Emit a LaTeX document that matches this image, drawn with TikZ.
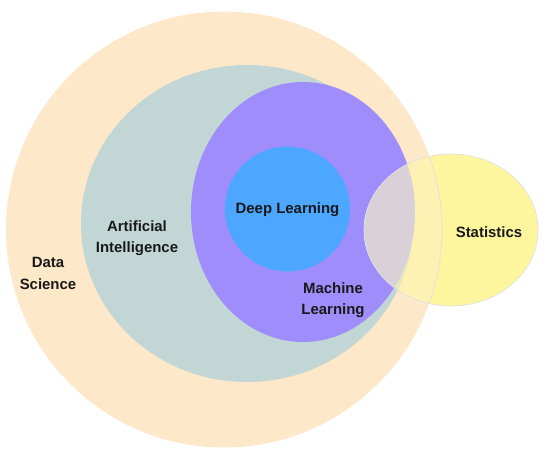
\documentclass[tikz,border=0pt]{standalone}
\usepackage{fontspec}
\setmainfont{Liberation Sans}
\usepackage{xcolor}

\definecolor{dsfill}{HTML}{FDE8C9}
\definecolor{aifill}{HTML}{C2D6D6}
\definecolor{mlfill}{HTML}{9E8DFA}
\definecolor{dlfill}{HTML}{4DA6FF}
\definecolor{stfill}{HTML}{FEF59F}
\definecolor{stds}{HTML}{FDF1B3}
\definecolor{stai}{HTML}{E3E6C2}
\definecolor{stml}{HTML}{D9D0D8}

\begin{document}
\begin{tikzpicture}[x=0.02cm,y=0.02cm,
  lbl/.style={font=\bfseries\fontsize{8.5}{12.2}\selectfont, align=center, text=black!90}]

\useasboundingbox (0,0) rectangle (543,-459);

% Data Science
\fill[dsfill] (224,-229.5) circle (218);

% Artificial Intelligence
\fill[aifill] (247,-223.5) ellipse (166 and 158.5);

% Machine Learning
\fill[mlfill] (303,-212) ellipse (112 and 130);

% Deep Learning
\fill[dlfill] (287.5,-209) circle (62.5);

% Statistics, with the overlaps
\fill[stfill] (451,-230) ellipse (87 and 76);
\begin{scope}
  \clip (451,-230) ellipse (87 and 76);
  \fill[stds] (224,-229.5) circle (218);
  \fill[stai] (247,-223.5) ellipse (166 and 158.5);
  \fill[stml] (303,-212) ellipse (112 and 130);
\end{scope}

% Outlines
\draw[black!12, line width=0.4pt] (451,-230) ellipse (87 and 76);
\begin{scope}
  \clip (451,-230) ellipse (87 and 76);
  \draw[black!12, line width=0.4pt] (224,-229.5) circle (218);
\end{scope}

% Labels
\node[lbl] (ds) at (48,-273.5) {Data\\Science};
\node[lbl] (ai) at (137,-238) {Artificial\\Intelligence};
\node[lbl] (ml) at (333,-300) {Machine\\Learning};
\node[lbl] (dl) at (287.5,-210) {Deep Learning};
\node[lbl] (st) at (489,-232) {Statistics};

\end{tikzpicture}
\end{document}
